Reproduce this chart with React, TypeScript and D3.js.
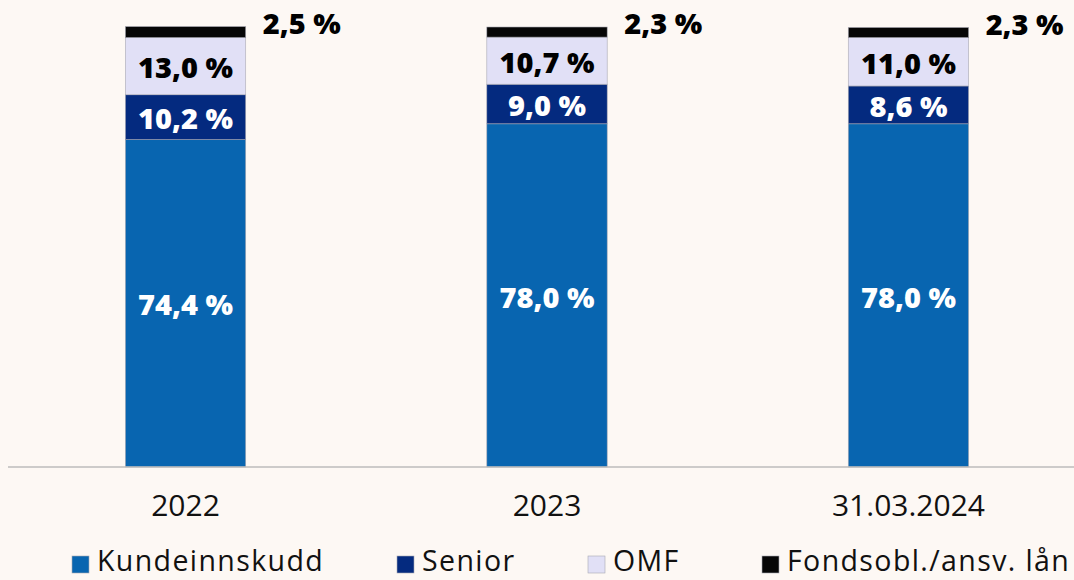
import React from 'react';
import * as d3 from 'd3';

const categories = ['2022', '2023', '31.03.2024'];
const seriesNames = ['Kundeinnskudd', 'Senior', 'OMF', 'Fondsobl./ansv. lån'];
const kundeinnskudd = [74.4, 78.0, 78.0];
const senior = [10.2, 9.0, 8.6];
const omf = [13.0, 10.7, 11.0];
const fondsobl = [2.5, 2.3, 2.3];

const colors = ['#0865b0', '#042a7f', '#e1e0f6', '#060606'];
const labelColors = ['#ffffff', '#ffffff', '#000000', '#000000'];

const W = 1074;
const H = 580;

const fmt = (v: number) => v.toFixed(1).replace('.', ',') + ' %';

export default function App() {
  const values = [kundeinnskudd, senior, omf, fondsobl];
  const rows = categories.map((c, i) => {
    const r: any = { cat: c };
    seriesNames.forEach((s, k) => (r[s] = values[k][i]));
    return r;
  });
  const stacked = d3.stack<any>().keys(seriesNames)(rows);

  const x = d3.scaleBand().domain(categories).range([5, 1089]).paddingInner(0.667).paddingOuter(0.333);
  const y = d3.scaleLinear().domain([0, 100]).range([467, 27]);

  const labelFont = "'Open Sans', 'Lato', sans-serif";
  const axisFont = "'Open Sans', 'Roboto', sans-serif";

  const legendX = [72, 397, 588, 762];

  return (
    <svg width={W} height={H} style={{ position: 'absolute', left: 0, top: 0, background: '#fdf8f4' }}>
      <rect x={0} y={0} width={W} height={H} fill="#fdf8f4" />
      {stacked.map((layer, k) => (
        <g key={layer.key}>
          {layer.map((d, i) => (
            <rect
              key={i}
              x={x(categories[i])!}
              y={y(d[1])}
              width={x.bandwidth()}
              height={y(d[0]) - y(d[1])}
              fill={colors[k]}
              stroke="#a9a9b3"
              strokeWidth={0.6}
            />
          ))}
        </g>
      ))}
      <line x1={8} x2={W} y1={y(0)} y2={y(0)} stroke="#bdbdbd" strokeWidth={1.5} />
      {stacked.map((layer, k) =>
        layer.map((d, i) => {
          const v = values[k][i];
          const cx = x(categories[i])! + x.bandwidth() / 2;
          const outside = k === 3;
          return (
            <text
              key={`l${k}${i}`}
              x={outside ? x(categories[i])! + x.bandwidth() + 17 : cx}
              y={outside ? y(d[1]) - 3 : (y(d[0]) + y(d[1])) / 2 + 2}
              dy="0.35em"
              textAnchor={outside ? 'start' : 'middle'}
              fontFamily={labelFont}
              fontWeight={800}
              fontSize={29}
              letterSpacing={0}
              fill={labelColors[k]}
            >
              {fmt(v)}
            </text>
          );
        })
      )}
      {categories.map((c) => (
        <text
          key={c}
          x={x(c)! + x.bandwidth() / 2}
          y={505}
          dy="0.35em"
          textAnchor="middle"
          fontFamily={axisFont}
          fontSize={30}
          fill="#111"
        >
          {c}
        </text>
      ))}
      {seriesNames.map((s, k) => (
        <g key={s} transform={`translate(${legendX[k]},0)`}>
          <rect x={0} y={556} width={17} height={17} fill={colors[k]} stroke="#a9a9b3" strokeWidth={0.6} />
          <text x={25} y={571} fontFamily={axisFont} fontSize={28.5} letterSpacing={1.4} fill="#111">
            {s}
          </text>
        </g>
      ))}
    </svg>
  );
}
